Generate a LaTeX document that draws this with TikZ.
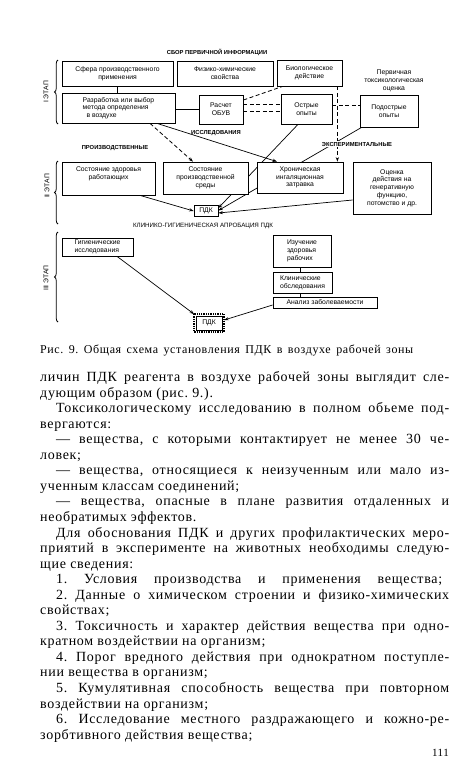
\documentclass[tikz,border=0pt]{standalone}
\usepackage{fontspec}
\setmainfont{Liberation Serif}[LetterSpace=5.0]
\newfontfamily\dsans{Liberation Sans}
\usetikzlibrary{arrows.meta,backgrounds,decorations.pathreplacing}
\newcommand\bodyfont{\fontsize{14}{15.5}\selectfont\frenchspacing}
\newcommand\capfont{\fontsize{12}{13}\selectfont\frenchspacing}
\newcommand\boxfont{\dsans\fontsize{6.8}{7.7}\selectfont}
\newcommand\headfont{\dsans\bfseries\fontsize{5.8}{6.5}\selectfont}
\newcommand\headfontl{\dsans\fontsize{6.2}{6.8}\selectfont}
\def\LM{40}
\def\TW{409}
\newcommand\jline[3]{\node[bodyline] (t#1) at ({\LM+#2},{381.5+#1*15.55}) {\makebox[\dimexpr\TW pt-#2pt\relax][s]{#3}};}
\newcommand\lline[3]{\node[bodyline] (t#1) at ({\LM+#2},{381.5+#1*15.55}) {#3};}
\begin{document}
\begin{tikzpicture}[x=1pt,y=-1pt,
  box/.style={draw,line width=0.75pt,fill=white,inner sep=1pt,font=\boxfont,align=center},
  hdr/.style={font=\headfont,inner sep=1pt},
  arr/.style={-{Stealth[length=4.5pt,width=3.2pt]}},
  conn/.style={line width=0.7pt},
  dsh/.style={line width=0.8pt,dash pattern=on 4pt off 2.5pt},
  brc/.style={decorate,decoration={brace,amplitude=3.5pt},line width=0.8pt},
  bodyline/.style={anchor=base west,inner sep=0pt,font=\bodyfont},
]
\useasboundingbox (0,0) rectangle (474,758);

% ---------- diagram: headers ----------
\node[hdr] (h1) at (217,52) {СБОР ПЕРВИЧНОЙ ИНФОРМАЦИИ};
\node[hdr] (h2) at (216,133) {ИССЛЕДОВАНИЯ};
\node[hdr] (h3) at (115,148) {ПРОИЗВОДСТВЕННЫЕ};
\node[hdr,fill=white] (h4) at (357,144) {ЭКСПЕРИМЕНТАЛЬНЫЕ};
\node[font=\headfontl,inner sep=1pt] (h5) at (203,226) {КЛИНИКО-ГИГИЕНИЧЕСКАЯ АПРОБАЦИЯ ПДК};

% ---------- stage labels ----------
\node[font=\boxfont,rotate=90] (s1) at (46,92) {I ЭТАП};
\node[font=\boxfont,rotate=90] (s2) at (47,186) {II ЭТАП};
\node[font=\boxfont,rotate=90] (s3) at (46,278) {III ЭТАП};
\draw[brc] (58,124) -- (58,60);
\draw[brc] (58,224) -- (58,161);
\draw[brc] (58,322) -- (58,232);

% ---------- stage I ----------
\node[box,minimum width=111,minimum height=25] (A) at (117.5,73.5) {Сфера производственного\\применения};
\node[box,minimum width=96,minimum height=25] (B) at (225,73.5) {Физико-химические\\свойства};
\node[box,minimum width=65,minimum height=26] (C) at (309.5,73) {Биологическое\\действие};
\node[font=\boxfont,align=center,inner sep=0pt] (T) at (394,81) {Первичная\\токсикологическая\\оценка};
\node[box,align=left,minimum width=113,minimum height=30] (D) at (118.5,108) {Разработка или выбор\\метода определения\\\ \ в воздухе};
\node[box,minimum width=44,minimum height=29] (E) at (221,109.5) {Расчет\\ОБУВ};
\node[box,minimum width=51,minimum height=30] (F) at (306.5,109) {Острые\\опыты};
\node[box,minimum width=58,minimum height=32] (G) at (389,111) {Подострые\\опыты};

% ---------- stage II ----------
\node[box,minimum width=93,minimum height=33] (H) at (108.5,178.5) {Состояние здоровья\\работающих\\[3pt]};
\node[box,minimum width=85,minimum height=32] (I) at (205.5,178) {Состояние\\производственной\\среды};
\node[box,minimum width=86,minimum height=31] (J) at (300,177.5) {Хроническая\\ингаляционная\\затравка};
\node[box,minimum width=78,minimum height=52] (K) at (392,188) {Оценка\\действия на\\генеративную\\функцию,\\потомство и др.};
\node[box,minimum width=24,minimum height=11,inner sep=0.5pt] (P1) at (206,211) {ПДК};

% ---------- stage III ----------
\node[box,align=left,minimum width=71,minimum height=18] (L) at (97.5,247) {Гигиенические\\исследования};
\node[box,align=left,minimum width=58,minimum height=32] (M) at (302,251) {Изучение\\здоровья\\рабочих};
\node[box,align=left,minimum width=59,minimum height=21] (N) at (302.5,282.5) {Клинические\\обследования};
\node[box,minimum width=104,minimum height=11,inner sep=0.5pt] (O) at (325,302.5) {Анализ заболеваемости};
\node[box,minimum width=26,minimum height=14,inner sep=0.5pt] (P2) at (209,323) {ПДК};
\draw[densely dotted,line width=1.3pt] ([shift={(-1.6pt,1.6pt)}]P2.north west) rectangle ([shift={(1.6pt,-1.6pt)}]P2.south east);

% ---------- connectors (behind boxes) ----------
\begin{scope}[on background layer]
\fill[white] (0,0) rectangle (474,758);
\draw[conn] (A.south) -- (A.south |- D.north);
\draw[conn] (E.west) -- (E.west -| D.east);
\draw[dsh] ([yshift=9.5pt]E.east) -- ([xshift=6pt]C.south west);
\draw[dsh] ([yshift=5.5pt]E.east) -- ([yshift=5.5pt]E.east -| F.west);
\draw[dsh] ([yshift=-1.5pt]E.east) -- ([yshift=-1.5pt]E.east -| F.west);
\draw[dsh] ([yshift=4pt]F.east) -- ([yshift=4pt]F.east -| G.west);
\draw[dsh,arr] ([xshift=-5pt]C.south east) -- ([xshift=-5pt]C.south east |- J.north);
\draw[dsh,arr] ([xshift=31.5pt]D.south) -- ([xshift=-12.5pt]I.north);
\draw[conn,arr] ([xshift=38.5pt]D.south) -- ([xshift=-23pt]J.north);
\draw[conn,arr] ([xshift=-8.5pt]F.south) -- ([yshift=3pt]P1.east);
\draw[conn,arr] ([xshift=2pt]G.south west) -- ([yshift=0.5pt]P1.east);
\draw[conn,arr] ([yshift=-12pt]K.west) -- ([yshift=-2pt]P1.east);
\draw[conn,arr] ([xshift=31.5pt]H.south) -- (P1.west);
\draw[conn] ([xshift=-2pt]M.south) -- ([xshift=-2pt]M.south |- N.north);
\draw[conn] ([xshift=-2.5pt]N.south) -- ([xshift=-2.5pt]N.south |- O.north);
\draw[conn,arr] ([xshift=19.5pt]L.south) -- ([shift={(-1.5pt,1.5pt)}]P2.north west);
\draw[conn,arr] ([yshift=-2.5pt]O.west) -- ([xshift=1.8pt,yshift=3pt]P2.east);
\end{scope}

% ---------- caption ----------
\node[anchor=base west,inner sep=0pt,font=\capfont] (cap) at (40,353) {\makebox[373pt][s]{Рис. 9. Общая схема установления ПДК в воздухе рабочей зоны}};

% ---------- body text ----------
\jline{0}{0}{личин ПДК реагента в воздухе рабочей зоны выглядит сле-}
\lline{1}{0}{дующим образом (рис. 9.).}
\jline{2}{16}{Токсикологическому исследованию в полном обьеме под-}
\lline{3}{0}{вергаются:}
\jline{4}{16}{— вещества, с которыми контактирует не менее 30 че-}
\lline{5}{0}{ловек;}
\jline{6}{16}{— вещества, относящиеся к неизученным или мало из-}
\lline{7}{0}{ученным классам соединений;}
\jline{8}{16}{— вещества, опасные в плане развития отдаленных и}
\lline{9}{0}{необратимых эффектов.}
\jline{10}{16}{Для обоснования ПДК и других профилактических меро-}
\jline{11}{0}{приятий в эксперименте на животных необходимы следую-}
\lline{12}{0}{щие сведения:}
\node[bodyline] (t13) at ({\LM+16},{381.5+13*15.55}) {\makebox[386pt][s]{1. Условия производства и применения вещества;}};
\jline{14}{16}{2. Данные о химическом строении и физико-химических}
\lline{15}{0}{свойствах;}
\jline{16}{16}{3. Токсичность и характер действия вещества при одно-}
\lline{17}{0}{кратном воздействии на организм;}
\jline{18}{16}{4. Порог вредного действия при однократном поступле-}
\lline{19}{0}{нии вещества в организм;}
\jline{20}{16}{5. Кумулятивная способность вещества при повторном}
\lline{21}{0}{воздействии на организм;}
\jline{22}{16}{6. Исследование местного раздражающего и кожно-ре-}
\lline{23}{0}{зорбтивного действия вещества;}
\node[anchor=base east,inner sep=0pt,font=\fontsize{11}{12}\selectfont] (pg) at (449,756) {111};
\end{tikzpicture}
\end{document}
